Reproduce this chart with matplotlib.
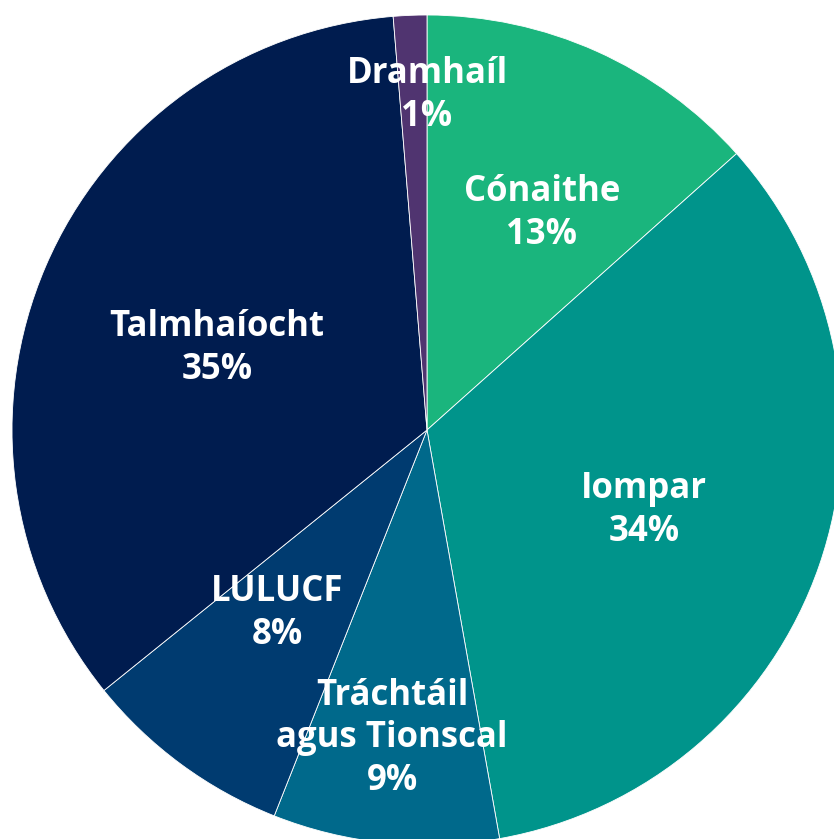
import matplotlib
matplotlib.use("Agg")
import matplotlib.pyplot as plt

categories = ["Cónaithe", "Iompar", "Tráchtáil\nagus Tionscal", "LULUCF", "Talmhaíocht", "Dramhaíl"]
values = [13.4, 33.8, 8.8, 8.2, 34.5, 1.3]
pct_labels = ["13%", "34%", "9%", "8%", "35%", "1%"]
colors = ["#1ab57d", "#00948b", "#00698b", "#003b70", "#001c4f", "#503470"]

# label offsets (in pie radius units)
label_pos = [(0.277, 0.522), (0.523, -0.194), (-0.084, -0.743),
             (-0.361, -0.442), (-0.506, 0.197), (0.0, 0.806)]

W, H, DPI = 834, 839, 100
fig = plt.figure(figsize=(W / DPI, H / DPI), dpi=DPI)
ax = fig.add_axes([0, 0, 1, 1])
ax.pie(values, colors=colors, startangle=90, counterclock=False,
       radius=1.0, center=(0, 0),
       wedgeprops=dict(edgecolor="white", linewidth=0.6))

for cat, pct, (x, y) in zip(categories, pct_labels, label_pos):
    ax.text(x, y, f"{cat}\n{pct}", ha="center", va="center", color="white",
            fontsize=25, fontweight="bold", family=["Open Sans", "DejaVu Sans"],
            linespacing=1.25)

scale = 415.0
cx, cy = 427.0, 430.0
ax.set_xlim(-cx / scale, (W - cx) / scale)
ax.set_ylim(-(H - cy) / scale, cy / scale)
ax.set_aspect("equal")
ax.axis("off")
fig.savefig("out.png", dpi=DPI)
